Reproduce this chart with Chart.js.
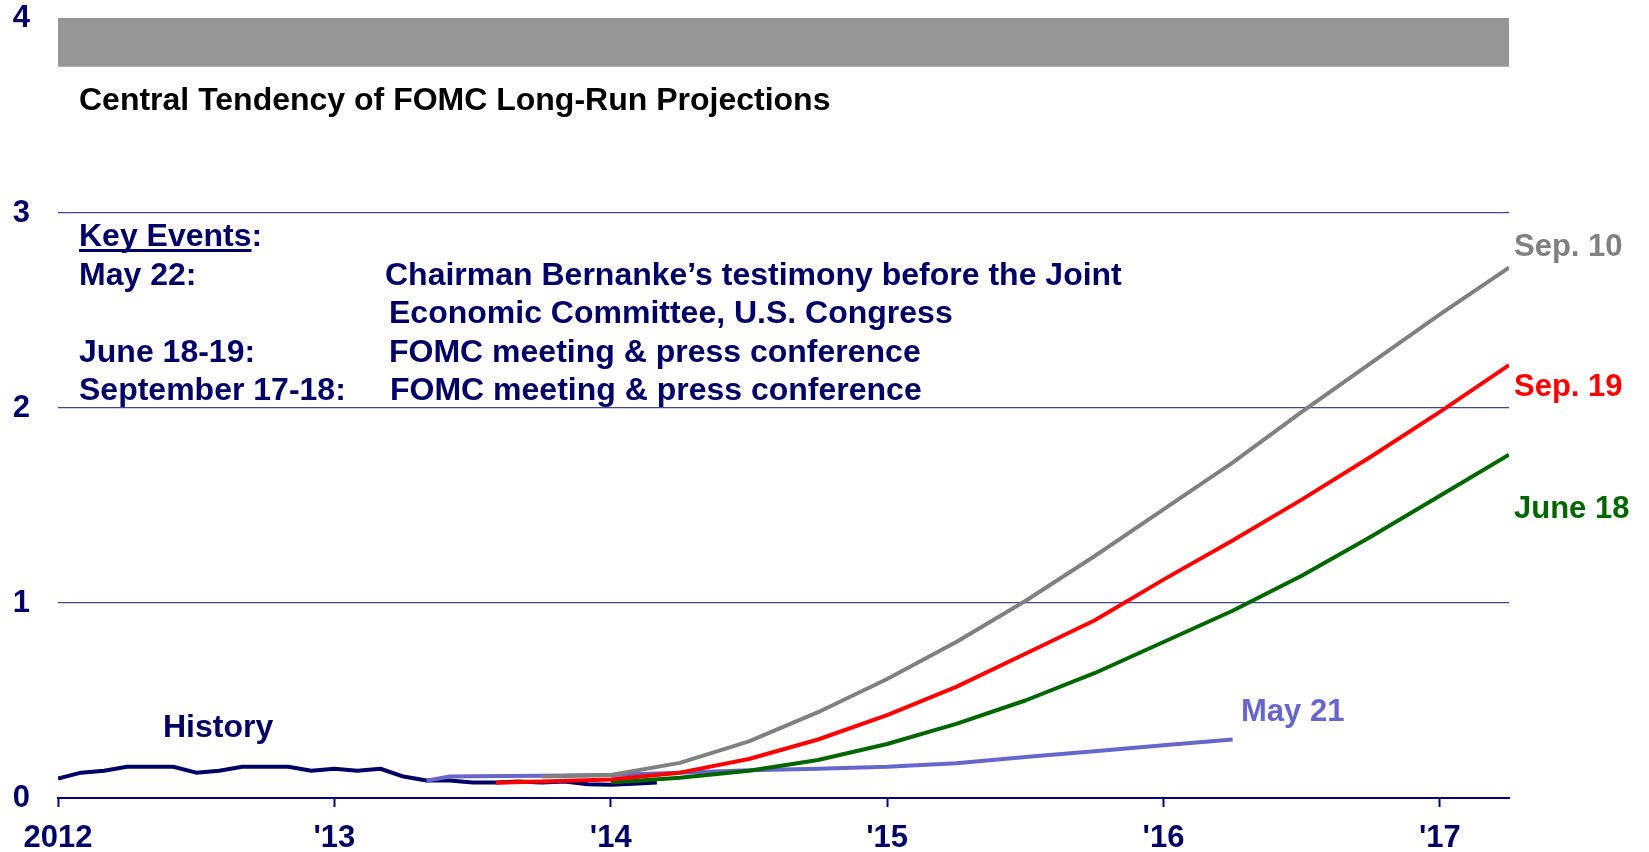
<!DOCTYPE html>
<html>
<head>
<meta charset="utf-8">
<script src="https://cdn.jsdelivr.net/npm/chart.js@4.4.1/dist/chart.umd.min.js"></script>
<style>
  html, body { margin: 0; padding: 0; background: #ffffff; }
  canvas { display: block; }
</style>
</head>
<body>
<canvas id="c" width="1649" height="852"></canvas>
<script>
// ---------- data ----------
const xTickValues = [2012, 2013, 2014, 2015, 2016, 2017];
const xTickLabels = ['2012', "'13", "'14", "'15", "'16", "'17"];
const yTickValues = [0, 1, 2, 3, 4];
const yTickLabels = ['0', '1', '2', '3', '4'];

const historyMonths = ['2012-01','2012-02','2012-03','2012-04','2012-05','2012-06','2012-07','2012-08','2012-09','2012-10','2012-11','2012-12',
                       '2013-01','2013-02','2013-03','2013-04','2013-05','2013-06','2013-07','2013-08','2013-09','2013-10','2013-11','2013-12',
                       '2014-01','2014-02','2014-03'];
const historyRate = [0.10,0.13,0.14,0.16,0.16,0.16,0.13,0.14,0.16,0.16,0.16,0.14,
                     0.15,0.14,0.15,0.11,0.09,0.09,0.08,0.08,0.085,0.08,0.085,0.07,
                     0.068,0.073,0.08];

const may21Months = ['2013-05','2013-06','2013-07','2013-10','2014-01','2014-04','2014-07','2014-10','2015-01','2015-04','2015-07','2015-10','2016-01','2016-04'];
const may21Rate = [0.088,0.11,0.112,0.114,0.118,0.13,0.142,0.15,0.16,0.178,0.21,0.24,0.27,0.30];

const sep10Months = ['2013-10','2014-01','2014-04','2014-07','2014-10','2015-01','2015-04','2015-07','2015-10','2016-01','2016-04','2016-07','2016-10','2017-01','2017-04'];
const sep10Rate = [0.11,0.118,0.18,0.29,0.44,0.61,0.80,1.01,1.24,1.48,1.72,1.98,2.23,2.48,2.72];

const sep19Months = ['2013-08','2013-10','2014-01','2014-04','2014-07','2014-10','2015-01','2015-04','2015-07','2015-10','2016-01','2016-04','2016-07','2016-10','2017-01','2017-04'];
const sep19Rate = [0.078,0.085,0.095,0.13,0.20,0.30,0.425,0.57,0.74,0.91,1.12,1.32,1.53,1.75,1.98,2.22];

const june18Months = ['2014-01','2014-04','2014-07','2014-10','2015-01','2015-04','2015-07','2015-10','2016-01','2016-04','2016-07','2016-10','2017-01','2017-04'];
const june18Rate = [0.08,0.104,0.14,0.195,0.277,0.38,0.50,0.64,0.80,0.96,1.14,1.34,1.55,1.76];

const bandRange = [3.75, 4.0];
const bandTitle = 'Central Tendency of FOMC Long-Run Projections';

// ---------- helpers ----------
function monthToYear(s) { const p = s.split('-'); return Number(p[0]) + (Number(p[1]) - 1) / 12; }
function toPoints(months, vals) { return months.map((m, i) => ({ x: monthToYear(m), y: vals[i] })); }

const NAVY = '#000066';
const FONT = '"Liberation Sans", Arial, Helvetica, sans-serif';

const annotations = {
  id: 'annotations',
  beforeDatasetsDraw(chart) {
    const { ctx, chartArea, scales } = chart;
    const y = scales.y;
    const top = y.getPixelForValue(bandRange[1]);
    const bot = y.getPixelForValue(bandRange[0]);
    ctx.save();
    ctx.fillStyle = '#969696';
    ctx.fillRect(chartArea.left, top, chartArea.right - chartArea.left, bot - top);
    ctx.restore();
  },
  afterDatasetsDraw(chart) {
    const { ctx } = chart;
    ctx.save();
    ctx.textBaseline = 'alphabetic';
    ctx.textAlign = 'left';
    function txt(s, x, y, color, size) {
      ctx.font = 'bold ' + size + 'px ' + FONT;
      ctx.fillStyle = color;
      ctx.fillText(s, x, y);
    }
    // title under band
    txt(bandTitle, 79, 110, '#000000', 32);
    // key events block
    const ke = 'Key Events';
    ctx.font = 'bold 32px ' + FONT;
    const kw = ctx.measureText(ke).width;
    txt(ke + ':', 79, 246, NAVY, 32);
    ctx.fillStyle = NAVY;
    ctx.fillRect(79, 249, kw, 3);
    txt('May 22:', 79, 285, NAVY, 32);
    txt('Chairman Bernanke\u2019s testimony before the Joint', 385, 285, NAVY, 32);
    txt('Economic Committee, U.S. Congress', 389, 323, NAVY, 32);
    txt('June 18-19:', 79, 362, NAVY, 32);
    txt('FOMC meeting & press conference', 389, 362, NAVY, 32);
    txt('September 17-18:', 79, 400, NAVY, 32);
    txt('FOMC meeting & press conference', 390, 400, NAVY, 32);
    // series labels
    txt('Sep. 10', 1514, 256, '#808080', 31);
    txt('Sep. 19', 1514, 396, '#ff0000', 31);
    txt('June 18', 1514, 518, '#006600', 31);
    txt('May 21', 1241, 721, '#6666cc', 31);
    txt('History', 163, 737, NAVY, 32);
    ctx.restore();
  }
};

function lineDs(label, data, color, order) {
  return { label, data, borderColor: color, backgroundColor: color, borderWidth: 4,
           pointRadius: 0, tension: 0, fill: false, order, borderCapStyle: 'butt', borderJoinStyle: 'round' };
}

new Chart(document.getElementById('c'), {
  type: 'line',
  data: {
    datasets: [
      lineDs('Sep. 19', toPoints(sep19Months, sep19Rate), '#ff0000', 1),
      lineDs('June 18', toPoints(june18Months, june18Rate), '#006600', 2),
      lineDs('Sep. 10', toPoints(sep10Months, sep10Rate), '#808080', 3),
      lineDs('May 21', toPoints(may21Months, may21Rate), '#6666cc', 4),
      lineDs('History', toPoints(historyMonths, historyRate), NAVY, 5)
    ]
  },
  options: {
    responsive: false,
    animation: false,
    parsing: false,
    layout: { padding: { top: 18, right: 140, left: 0, bottom: 0 } },
    plugins: { legend: { display: false }, tooltip: { enabled: false } },
    scales: {
      x: {
        type: 'linear', min: 2012, max: 2017.25,
        afterBuildTicks: s => { s.ticks = xTickValues.map(v => ({ value: v })); },
        afterFit: s => { s.height = 54; s.paddingLeft = 0; s.paddingRight = 0; },
        ticks: {
          callback: v => xTickLabels[xTickValues.indexOf(v)],
          color: NAVY, font: { family: FONT, size: 31, weight: 'bold', lineHeight: 1 },
          padding: 16, maxRotation: 0, autoSkip: false
        },
        grid: { drawOnChartArea: false, drawTicks: true, tickLength: 9, tickColor: '#000080', tickWidth: 2 },
        border: { display: true, color: '#000080', width: 2 }
      },
      y: {
        min: 0, max: 4,
        afterBuildTicks: s => { s.ticks = yTickValues.map(v => ({ value: v })); },
        afterFit: s => { s.width = 58; s.paddingTop = 0; s.paddingBottom = 0; },
        ticks: {
          callback: v => yTickLabels[yTickValues.indexOf(v)],
          color: NAVY, font: { family: FONT, size: 31, weight: 'bold', lineHeight: 1 },
          padding: 28
        },
        grid: {
          drawTicks: false, lineWidth: 1.2,
          color: c => (c.tick && (c.tick.value === 0 || c.tick.value === 4)) ? 'rgba(0,0,0,0)' : '#45458f'
        },
        border: { display: false }
      }
    }
  },
  plugins: [annotations]
});
</script>
</body>
</html>
